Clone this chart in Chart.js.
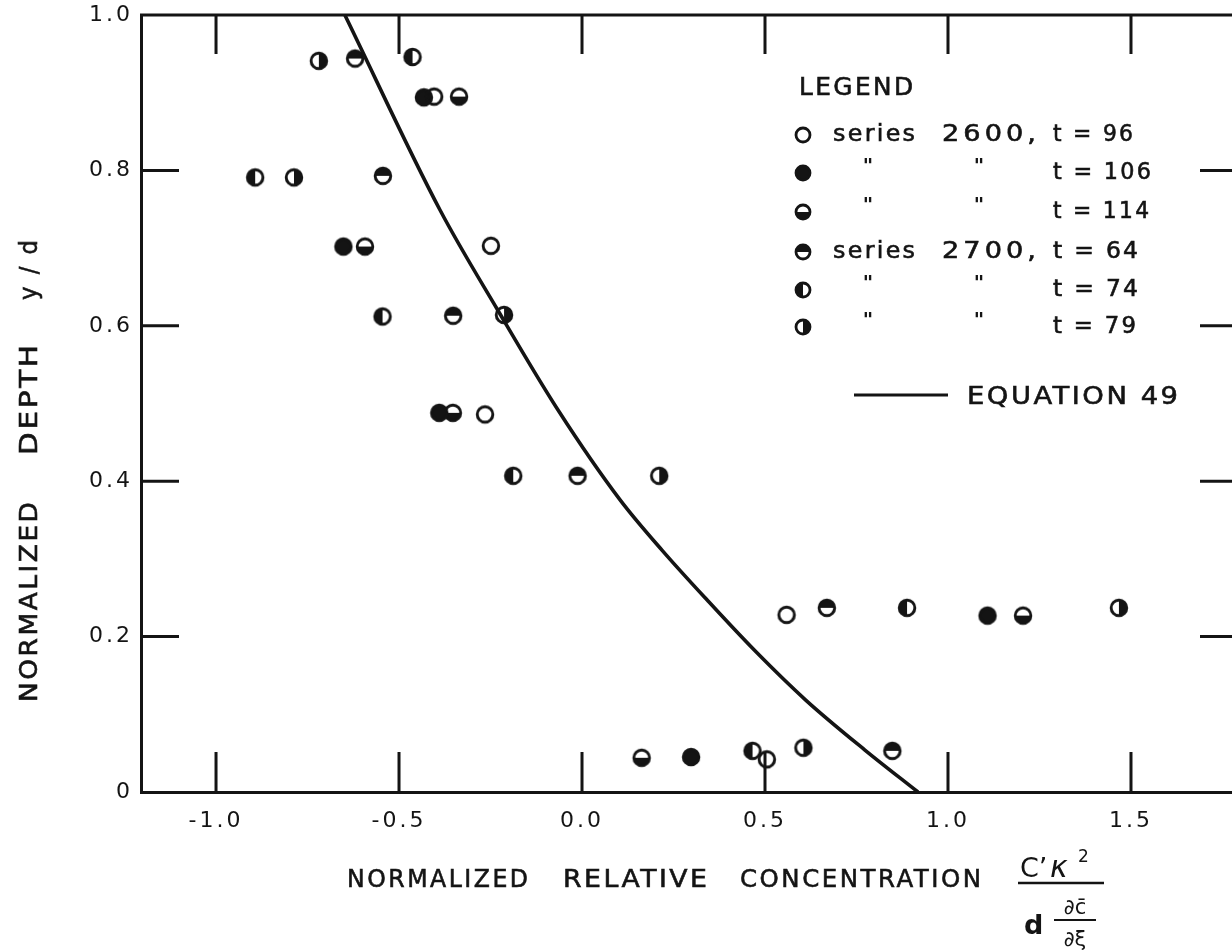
<!DOCTYPE html>
<html>
<head>
<meta charset="utf-8">
<script src="https://cdn.jsdelivr.net/npm/chart.js@4.4.1/dist/chart.umd.min.js"></script>
<style>
  html, body { margin: 0; padding: 0; background: #fff; }
  canvas { display: block; }
</style>
</head>
<body>
<canvas id="plot" width="1232" height="950"></canvas>
<script>
// axis ticks
var xTicks = [-1.0, -0.5, 0.0, 0.5, 1.0, 1.5];
var xTickLabels = ['-1.0', '-0.5', '0.0', '0.5', '1.0', '1.5'];
var yTicks = [0, 0.2, 0.4, 0.6, 0.8, 1.0];
var yTickLabels = ['0', '0.2', '0.4', '0.6', '0.8', '1.0'];
var innerYTicks = [0.2, 0.4, 0.6, 0.8];

// equation 49
var eqX = [-0.648, -0.388, -0.230, -0.066, 0.104, 0.219, 0.342, 0.470, 0.612, 0.773, 0.918];
var eqY = [1.000, 0.749, 0.620, 0.492, 0.376, 0.311, 0.247, 0.183, 0.118, 0.054, 0.000];

// series 2600
var s96X = [-0.404, -0.249, -0.265, 0.559, 0.505];
var s96Y = [0.895, 0.703, 0.486, 0.228, 0.042];
var s106X = [-0.432, -0.652, -0.390, 1.108, 0.298];
var s106Y = [0.894, 0.702, 0.488, 0.227, 0.045];
var s114X = [-0.336, -0.593, -0.353, 0.163, 1.205];
var s114Y = [0.895, 0.702, 0.488, 0.044, 0.227];

// series 2700
var s64X = [-0.620, -0.544, -0.352, -0.012, 0.669, 0.848];
var s64Y = [0.944, 0.793, 0.613, 0.407, 0.237, 0.053];
var s74X = [-0.463, -0.893, -0.545, -0.188, 0.888, 0.466];
var s74Y = [0.946, 0.791, 0.612, 0.407, 0.237, 0.053];
var s79X = [-0.719, -0.787, -0.213, 0.211, 1.467, 0.605];
var s79Y = [0.941, 0.791, 0.614, 0.407, 0.237, 0.057];

var INK = '#141414';
var FONT = '"DejaVu Sans", sans-serif';

function pts(xs, ys) {
    return xs.map(function (x, i) { return { x: x, y: ys[i] }; });
}

// half filled circle markers
function makeMarker(kind, r, lw) {
    var c = document.createElement('canvas');
    var size = Math.ceil(r * 2 + 6);
    c.width = size; c.height = size;
    var g = c.getContext('2d');
    var m = size / 2;
    g.fillStyle = INK; g.strokeStyle = INK; g.lineWidth = lw;
    if (kind !== 'open') {
        g.save();
        g.beginPath();
        if (kind === 'top') g.rect(0, 0, size, m);
        else if (kind === 'bottom') g.rect(0, m, size, size);
        else if (kind === 'left') g.rect(0, 0, m, size);
        else if (kind === 'right') g.rect(m, 0, size, size);
        else g.rect(0, 0, size, size);
        g.clip();
        g.beginPath(); g.arc(m, m, r, 0, Math.PI * 2); g.fill();
        g.restore();
    }
    g.beginPath(); g.arc(m, m, r, 0, Math.PI * 2); g.stroke();
    return c;
}

var kinds = ['open', 'full', 'bottom', 'top', 'left', 'right'];
var markers = {}, legendMarkers = {};
kinds.forEach(function (k) {
    markers[k] = makeMarker(k, 7.8, 2.9);
    legendMarkers[k] = makeMarker(k, 7.0, 2.8);
});

function pointSet(label, xs, ys, kind) {
    return {
        label: label,
        data: pts(xs, ys),
        pointStyle: markers[kind],
        pointRadius: 8,
        showLine: false
    };
}

// lettering: widen glyphs a little, then spread to the given width
function drawFit(ctx, text, x, y, width, size) {
    ctx.font = size + 'px ' + FONT;
    ctx.letterSpacing = '0px';
    var w = ctx.measureText(text).width;
    var n = Array.from(text).length;
    var base = size * 0.1;
    var sx = (width - (n - 1) * base) / w;
    sx = Math.max(0.9, Math.min(1.18, sx));
    var sp = n > 1 ? (width / sx - w) / (n - 1) : 0;
    ctx.save();
    ctx.translate(x, y);
    ctx.scale(sx, 1);
    ctx.letterSpacing = sp.toFixed(2) + 'px';
    ctx.textAlign = 'left';
    ctx.lineWidth = 0.6;
    ctx.fillText(text, 0, 0);
    ctx.strokeText(text, 0, 0);
    ctx.restore();
}

var framePlugin = {
    id: 'frame',
    beforeDraw: function (chart) {
        chart.ctx.letterSpacing = '3px';
    },
    afterDraw: function (chart) {
        var ctx = chart.ctx;
        var a = chart.chartArea;
        var xs = chart.scales.x, ys = chart.scales.y;
        ctx.save();
        ctx.letterSpacing = '0px';
        ctx.strokeStyle = INK;
        ctx.fillStyle = INK;
        ctx.lineWidth = 3;
        ctx.lineCap = 'butt';

        // top border
        ctx.beginPath();
        ctx.moveTo(a.left - 1, a.top);
        ctx.lineTo(a.right, a.top);
        ctx.stroke();

        // inward ticks
        ctx.beginPath();
        xTicks.forEach(function (v) {
            var px = xs.getPixelForValue(v);
            ctx.moveTo(px, a.top); ctx.lineTo(px, a.top + 39);
            ctx.moveTo(px, a.bottom); ctx.lineTo(px, a.bottom - 40);
        });
        innerYTicks.forEach(function (v) {
            var py = ys.getPixelForValue(v);
            ctx.moveTo(a.left, py); ctx.lineTo(a.left + 38, py);
            ctx.moveTo(a.right, py); ctx.lineTo(a.right - 32, py);
        });
        ctx.stroke();

        ctx.textBaseline = 'middle';

        // x axis title
        drawFit(ctx, 'NORMALIZED', 347, 880, 181, 25);
        drawFit(ctx, 'RELATIVE', 563, 880, 144, 25);
        drawFit(ctx, 'CONCENTRATION', 740, 880, 241, 25);

        // fraction C'k^2 / d dc/dxi
        ctx.textAlign = 'left';
        ctx.textBaseline = 'alphabetic';
        ctx.font = '27px ' + FONT;
        ctx.fillText('C\u2019', 1020, 877);
        ctx.font = 'italic 30px ' + FONT;
        ctx.fillText('\u03BA', 1050, 877);
        ctx.font = '17px ' + FONT;
        ctx.fillText('2', 1078, 862);
        ctx.lineWidth = 2.6;
        ctx.beginPath();
        ctx.moveTo(1018, 883); ctx.lineTo(1104, 883);
        ctx.stroke();
        ctx.font = 'bold 27px ' + FONT;
        ctx.fillText('d', 1024, 934);
        ctx.font = '21px ' + FONT;
        ctx.textAlign = 'center';
        ctx.fillText('\u2202c\u0304', 1075, 914);
        ctx.fillText('\u2202\u03BE', 1075, 946);
        ctx.lineWidth = 2.2;
        ctx.beginPath();
        ctx.moveTo(1054, 920); ctx.lineTo(1096, 920);
        ctx.stroke();

        // y axis title
        ctx.textBaseline = 'middle';
        var yt = [['NORMALIZED', 702, 200], ['DEPTH', 455, 110], ['y / d', 300, 60]];
        yt.forEach(function (p) {
            ctx.save();
            ctx.translate(30, p[1]);
            ctx.rotate(-Math.PI / 2);
            drawFit(ctx, p[0], 0, 0, p[2], 25);
            ctx.restore();
        });

        // legend
        drawFit(ctx, 'LEGEND', 799, 89, 114, 24);
        var rows = [
            ['open', 135, 'series', '2600,', 't = 96', 80],
            ['full', 173, '"', '"', 't = 106', 98],
            ['bottom', 212, '"', '"', 't = 114', 96],
            ['top', 252, 'series', '2700,', 't = 64', 85],
            ['left', 290, '"', '"', 't = 74', 85],
            ['right', 327, '"', '"', 't = 79', 83]
        ];
        rows.forEach(function (r) {
            var mk = legendMarkers[r[0]];
            ctx.drawImage(mk, 803 - mk.width / 2, r[1] - mk.height / 2);
            if (r[2] === 'series') {
                drawFit(ctx, 'series', 833, r[1], 82, 23);
                drawFit(ctx, r[3], 942, r[1], 94, 23);
            } else {
                ctx.font = 'bold 20px ' + FONT;
                ctx.textAlign = 'center';
                ctx.fillText('"', 868, r[1] - 6);
                ctx.fillText('"', 979, r[1] - 6);
            }
            drawFit(ctx, r[4], 1053, r[1], r[5], 23);
        });

        // equation line
        ctx.lineWidth = 3;
        ctx.beginPath();
        ctx.moveTo(854, 395); ctx.lineTo(948, 395);
        ctx.stroke();
        drawFit(ctx, 'EQUATION 49', 967, 397, 211, 25);

        ctx.restore();
    }
};

var ctx = document.getElementById('plot').getContext('2d');
var chart = new Chart(ctx, {
    type: 'scatter',
    data: {
        datasets: [
            {
                label: 'EQUATION 49',
                data: pts(eqX, eqY),
                showLine: true,
                borderColor: INK,
                borderWidth: 3.6,
                pointRadius: 0,
                cubicInterpolationMode: 'monotone',
                fill: false
            },
            pointSet('series 2600, t = 96', s96X, s96Y, 'open'),
            pointSet('series 2600, t = 106', s106X, s106Y, 'full'),
            pointSet('series 2600, t = 114', s114X, s114Y, 'bottom'),
            pointSet('series 2700, t = 64', s64X, s64Y, 'top'),
            pointSet('series 2700, t = 74', s74X, s74Y, 'left'),
            pointSet('series 2700, t = 79', s79X, s79Y, 'right')
        ]
    },
    options: {
        responsive: false,
        animation: false,
        layout: { autoPadding: false, padding: { top: 15, right: 0, left: 0, bottom: 0 } },
        plugins: {
            legend: { display: false },
            tooltip: { enabled: false }
        },
        scales: {
            x: {
                type: 'linear',
                min: -1.205,
                max: 1.776,
                grid: { display: false, drawTicks: false },
                border: { display: true, color: INK, width: 3 },
                afterBuildTicks: function (s) { s.ticks = xTicks.map(function (v) { return { value: v }; }); },
                afterFit: function (s) { s.height = 158; s.paddingLeft = 0; s.paddingRight = 0; },
                ticks: {
                    color: INK,
                    font: { family: FONT, size: 22 },
                    padding: 16,
                    maxRotation: 0,
                    autoSkip: false,
                    callback: function (v, i) { return xTickLabels[i]; }
                }
            },
            y: {
                type: 'linear',
                min: 0,
                max: 1,
                grid: { display: false, drawTicks: false },
                border: { display: true, color: INK, width: 3 },
                afterBuildTicks: function (s) { s.ticks = yTicks.map(function (v) { return { value: v }; }); },
                afterFit: function (s) { s.width = 141; s.paddingTop = 0; s.paddingBottom = 0; },
                ticks: {
                    color: INK,
                    font: { family: FONT, size: 22 },
                    padding: 8,
                    autoSkip: false,
                    callback: function (v, i) { return yTickLabels[i]; }
                }
            }
        }
    },
    plugins: [framePlugin]
});
</script>
</body>
</html>
